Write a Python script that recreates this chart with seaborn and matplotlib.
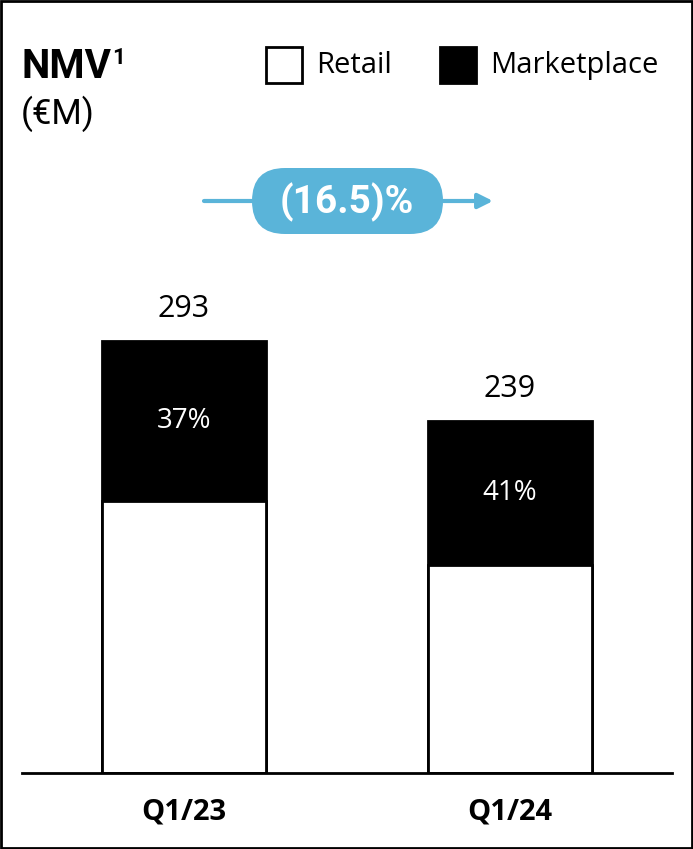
import numpy as np
import matplotlib
matplotlib.use("Agg")
import matplotlib.pyplot as plt
from matplotlib.patches import Rectangle, FancyBboxPatch
import seaborn as sns

# data
quarters = ["Q1/23", "Q1/24"]
nmv_total = [293, 239]
marketplace_share = [0.37, 0.41]
growth_label = "(16.5)%"

retail = [t * (1 - s) for t, s in zip(nmv_total, marketplace_share)]

sns.set_theme(style="white")
plt.rcParams["font.family"] = ["Open Sans", "DejaVu Sans"]
narrow = ["Roboto", "DejaVu Sans"]
blue = "#5ab4d9"

fig = plt.figure(figsize=(6.93, 8.49), dpi=100)
ax = fig.add_axes([22 / 693, 76 / 849, 650 / 693, 513 / 849])

# stacked bars: full total in black, retail part in white on top
sns.barplot(x=quarters, y=nmv_total, color="black", saturation=1, width=0.503,
            edgecolor="black", linewidth=2, ax=ax)
sns.barplot(x=quarters, y=retail, color="white", saturation=1, width=0.503,
            edgecolor="black", linewidth=2, ax=ax)

ax.set_xlim(-0.497, 1.497)
ax.set_ylim(0, 348)
ax.set_yticks([])
ax.set_ylabel("")
for s in ["top", "left", "right"]:
    ax.spines[s].set_visible(False)
ax.spines["bottom"].set_color("black")
ax.spines["bottom"].set_linewidth(2)
ax.tick_params(axis="x", length=0, pad=18)
for lab in ax.get_xticklabels():
    lab.set_fontsize(21)
    lab.set_fontweight("bold")
    lab.set_color("black")

for i, (t, r, s) in enumerate(zip(nmv_total, retail, marketplace_share)):
    ax.annotate(f"{t}", (i, t), xytext=(0, 23), textcoords="offset points",
                ha="center", va="center", fontsize=22, color="black")
    ax.text(i, (t + r) / 2, f"{round(s * 100)}%", ha="center", va="center",
            fontsize=20, color="white")

# overlay in pixel coordinates for the header decorations
ov = fig.add_axes([0, 0, 1, 1], zorder=5)
ov.set_xlim(0, 693)
ov.set_ylim(849, 0)
ov.axis("off")
ov.patch.set_alpha(0)

ov.add_patch(Rectangle((1, 1), 691, 847, fill=False, edgecolor="black", lw=2))

title = ov.text(21, 78, "NMV", family=narrow, fontweight="bold", fontsize=29,
                ha="left", va="baseline", color="black")
ov.annotate("1", xy=(1, 1), xycoords=title, xytext=(1, 1), textcoords="offset points",
            family=narrow, fontweight="bold", fontsize=16, ha="left", va="top",
            color="black")
ov.text(21, 124, "(€M)", family=narrow, fontsize=25,
        ha="left", va="baseline", color="black")

# legend
ov.add_patch(Rectangle((266, 47), 36, 36, facecolor="white", edgecolor="black", lw=2))
ov.text(316, 65, "Retail", fontsize=21, ha="left", va="center", color="black")
ov.add_patch(Rectangle((440, 47), 36, 36, facecolor="black", edgecolor="black", lw=2))
ov.text(490, 65, "Marketplace", fontsize=21, ha="left", va="center", color="black")

# growth arrow with pill
ov.annotate("", xy=(493, 201), xytext=(204, 201),
            arrowprops=dict(arrowstyle="-|>", color=blue, lw=3, mutation_scale=22,
                            shrinkA=0, shrinkB=0))
ov.add_patch(FancyBboxPatch((252, 168), 191, 66,
                            boxstyle="round,pad=0,rounding_size=33",
                            facecolor=blue, edgecolor="none", zorder=6))
ov.text(347, 202, growth_label, family=narrow, fontweight="bold", fontsize=28,
        ha="center", va="center", color="white", zorder=7)

fig.savefig("out.png", dpi=100, facecolor="white")
